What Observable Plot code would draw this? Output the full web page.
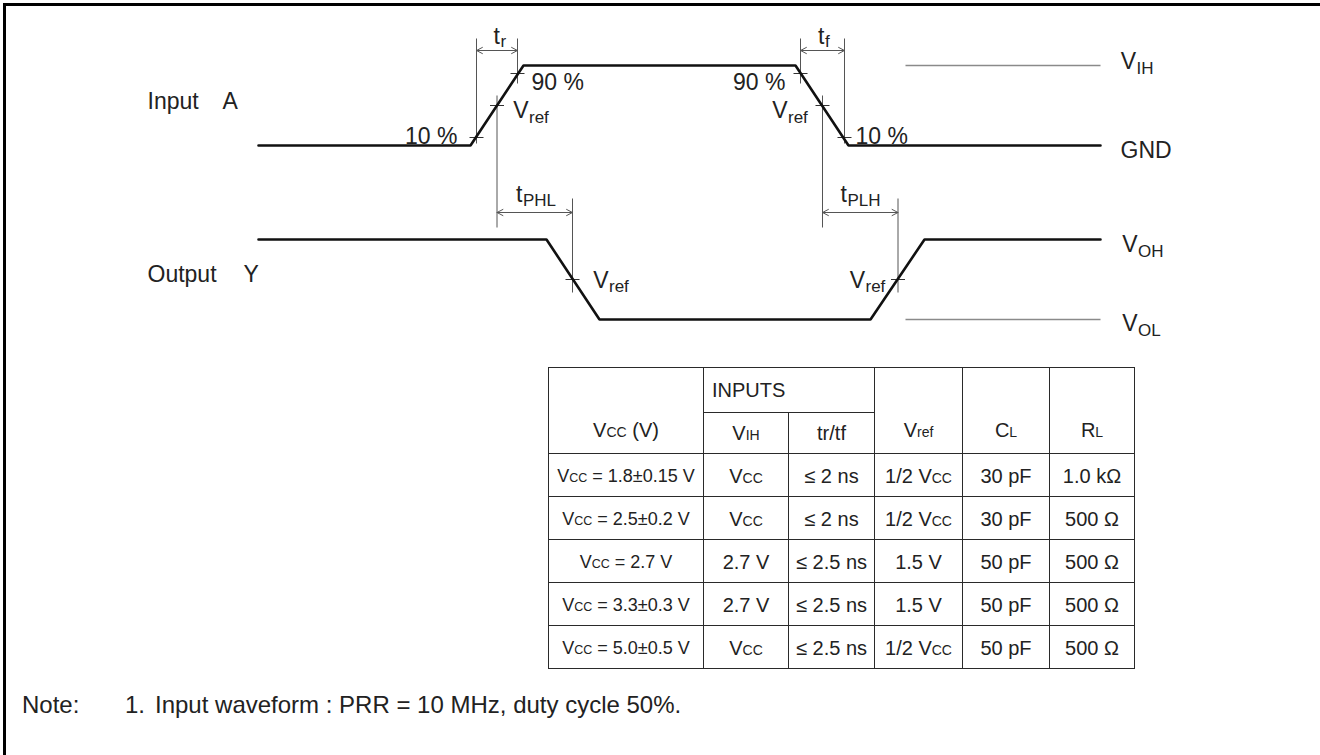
<!DOCTYPE html>
<html><head><meta charset="utf-8">
<script src="https://cdn.jsdelivr.net/npm/d3@7"></script>
<script src="https://cdn.jsdelivr.net/npm/@observablehq/plot@0.6"></script>
<style>
body{margin:0;background:#fff;}
#wrap{position:relative;width:1320px;height:755px;overflow:hidden;font-family:"Liberation Sans",Arial,sans-serif;color:#222;background:#fff;}
.frameTop{position:absolute;left:3px;top:3px;width:1317px;height:3px;background:#000;}
.frameLeft{position:absolute;left:3px;top:3px;width:3px;height:752px;background:#000;}
#chart{position:absolute;left:0;top:0;}
#tbl{position:absolute;left:548px;top:367px;border-collapse:collapse;table-layout:fixed;font-size:20px;color:#222;}
#tbl td{border:1.5px solid #2a2a2a;text-align:center;padding:0;white-space:nowrap;overflow:visible;}
#tbl td.hb{vertical-align:bottom;line-height:41px;}
#tbl td.inputs{text-align:left;padding-left:8px;}
#tbl tr.data td{padding-top:2px;}
#tbl tr.data td.c0{font-size:18px;}
#tbl .s{font-size:14px;}
#tbl td.c0 .s{font-size:12.5px;}
.note{position:absolute;top:693px;font-size:24px;line-height:24px;color:#222;white-space:pre;}
</style>
</head><body>
<div id="wrap">
  <div id="chart"></div>
  <div class="frameTop"></div>
  <div class="frameLeft"></div>
  <table id="tbl"></table>
  <div class="note" id="n1" style="left:22px"></div>
  <div class="note" id="n2" style="left:125px"></div>
  <div class="note" id="n3" style="left:155px"></div>
</div>
<script>
// ---------- waveform data (time units, levels as fraction of swing) ----------
const inputT      = [258, 470, 523, 795, 848, 1100];
const inputLevel  = [0, 0, 1, 1, 0, 0];
const outputT     = [258, 546, 599, 870, 924, 1100];
const outputLevel = [1, 1, 0, 0, 1, 1];

// measurement points on the edges (time, level)
const inputMarkT     = [476, 496.5, 517, 800, 822, 844];
const inputMarkLevel = [0.1, 0.5, 0.9, 0.9, 0.5, 0.1];
const outputMarkT     = [572, 897.5];
const outputMarkLevel = [0.5, 0.5];

// reference level lines (VIH on input lane, VOL on output lane)
const refLineT = [905, 1100];

// timing dimensions
const dimNames = ["tr", "tf", "tPHL", "tPLH"];
const dimStart = [476, 800, 496.5, 822];
const dimEnd   = [517, 844, 572, 897.5];

// table data
const vccValues = ["1.8±0.15 V", "2.5±0.2 V", "2.7 V", "3.3±0.3 V", "5.0±0.5 V"];
const vihValues = ["Vcc", "Vcc", "2.7 V", "2.7 V", "Vcc"];
const trtfValues = ["≤ 2 ns", "≤ 2 ns", "≤ 2.5 ns", "≤ 2.5 ns", "≤ 2.5 ns"];
const vrefValues = ["1/2 Vcc", "1/2 Vcc", "1.5 V", "1.5 V", "1/2 Vcc"];
const clValues = ["30 pF", "30 pF", "50 pF", "50 pF", "50 pF"];
const rlValues = ["1.0 kΩ", "500 Ω", "500 Ω", "500 Ω", "500 Ω"];
const noteTexts = ["Note:", "1.", "Input waveform : PRR = 10 MHz, duty cycle 50%."];

// ---------- layout ----------
const lanes = {input: {base: 145, amp: 80}, output: {base: 319, amp: 80}};
const yIn = l => lanes.input.base - l * lanes.input.amp;
const yOut = l => lanes.output.base - l * lanes.output.amp;
const fsMain = 23, fsSub = 17;
const ink = "#222", dimInk = "#555";

const inputWave = inputT.map((t, i) => ({t, y: yIn(inputLevel[i])}));
const outputWave = outputT.map((t, i) => ({t, y: yOut(outputLevel[i])}));
const marks = [
  ...inputMarkT.map((t, i) => ({t, y: yIn(inputMarkLevel[i])})),
  ...outputMarkT.map((t, i) => ({t, y: yOut(outputMarkLevel[i])}))
];
const refLines = [
  {t1: refLineT[0], t2: refLineT[1], y: yIn(1)},
  {t1: refLineT[0], t2: refLineT[1], y: yOut(0)}
];
const dimRowY = [50, 50, 212, 212];
const dims = dimNames.map((n, i) => ({name: n, t1: dimStart[i], t2: dimEnd[i], y: dimRowY[i]}));
const ext = [
  {t: 476, y1: 38, y2: 143}, {t: 517, y1: 38, y2: 83},
  {t: 496.5, y1: 95, y2: 227},
  {t: 800, y1: 38, y2: 83}, {t: 844, y1: 38, y2: 143},
  {t: 822, y1: 95, y2: 227},
  {t: 572, y1: 198, y2: 292}, {t: 897.5, y1: 198, y2: 292}
];
const arrowHalves = dims.flatMap(d => {
  const m = (d.t1 + d.t2) / 2;
  return [{x1: m, x2: d.t1, y: d.y}, {x1: m, x2: d.t2, y: d.y}];
});

const plainLabels = [
  {text: "Input", x: 147, b: 108, a: "start"},
  {text: "A", x: 222, b: 108, a: "start"},
  {text: "Output", x: 147, b: 281, a: "start"},
  {text: "Y", x: 243, b: 281, a: "start"},
  {text: "10 %", x: 457, b: 143, a: "end"},
  {text: "90 %", x: 531, b: 89, a: "start"},
  {text: "90 %", x: 785, b: 89, a: "end"},
  {text: "10 %", x: 855, b: 143, a: "start"},
  {text: "GND", x: 1120, b: 157, a: "start"}
];
const symLabels = [
  {main: "t", sub: "r", x: 499.5, b: 43, sb: 46},
  {main: "t", sub: "f", x: 824, b: 43, sb: 46},
  {main: "V", sub: "ref", x: 528, b: 117, sb: 122},
  {main: "V", sub: "ref", x: 787, b: 117, sb: 122},
  {main: "t", sub: "PHL", x: 522, b: 201, sb: 205},
  {main: "t", sub: "PLH", x: 846.5, b: 201, sb: 205},
  {main: "V", sub: "ref", x: 608, b: 287, sb: 291},
  {main: "V", sub: "ref", x: 864.5, b: 287, sb: 291},
  {main: "V", sub: "IH", x: 1135.5, b: 68, sb: 73},
  {main: "V", sub: "OH", x: 1137, b: 251, sb: 256},
  {main: "V", sub: "OL", x: 1137, b: 330, sb: 335}
];

const textOpts = a => ({x: "x", y: d => d.b - 0.32 * fsMain, text: "text", textAnchor: a, fontSize: fsMain, fill: ink});

const H = 345;
const chart = Plot.plot({
  width: 1320, height: H, margin: 0,
  x: {domain: [0, 1320], range: [0, 1320], axis: null},
  y: {domain: [0, H], range: [0, H], axis: null},
  style: {fontFamily: "'Liberation Sans', Arial, sans-serif", background: "transparent", overflow: "visible"},
  marks: [
    Plot.link(refLines, {x1: "t1", x2: "t2", y1: "y", y2: "y", stroke: "#8a8a8a", strokeWidth: 1.5}),
    Plot.link(ext, {x1: "t", x2: "t", y1: "y1", y2: "y2", stroke: dimInk, strokeWidth: 1}),
    Plot.link(dims, {x1: "t1", x2: "t2", y1: "y", y2: "y", stroke: dimInk, strokeWidth: 1}),
    Plot.arrow(arrowHalves, {x1: "x1", x2: "x2", y1: "y", y2: "y", stroke: dimInk, strokeWidth: 1, headLength: 10, headAngle: 55}),
    Plot.link(marks, {x1: d => d.t - 7, x2: d => d.t + 7, y1: "y", y2: "y", stroke: "#333", strokeWidth: 1}),
    Plot.line(inputWave, {x: "t", y: "y", stroke: "#111", strokeWidth: 2.6, strokeLinejoin: "miter"}),
    Plot.line(outputWave, {x: "t", y: "y", stroke: "#111", strokeWidth: 2.6, strokeLinejoin: "miter"}),
    Plot.text(plainLabels.filter(d => d.a === "start"), textOpts("start")),
    Plot.text(plainLabels.filter(d => d.a === "end"), textOpts("end")),
    Plot.text(symLabels, {x: "x", y: d => d.b - 0.32 * fsMain, text: "main", textAnchor: "end", fontSize: fsMain, fill: ink}),
    Plot.text(symLabels, {x: d => d.x + 0.5, y: d => d.sb - 0.32 * fsSub, text: "sub", textAnchor: "start", fontSize: fsSub, fill: ink})
  ]
});
document.getElementById("chart").appendChild(chart);

// ---------- table ----------
const fmt = s => s.replace(/Vcc/g, 'V<span class="s">CC</span>');
const widths = [155, 85, 86, 88, 87, 85];
let html = "<colgroup>" + widths.map(w => `<col style="width:${w}px">`).join("") + "</colgroup>";
html += `<tr style="height:45px"><td rowspan="2" class="hb">V<span class="s">CC</span> (V)</td><td colspan="2" class="inputs">INPUTS</td><td rowspan="2" class="hb">V<span class="s">ref</span></td><td rowspan="2" class="hb">C<span class="s">L</span></td><td rowspan="2" class="hb">R<span class="s">L</span></td></tr>`;
html += `<tr style="height:41px"><td>V<span class="s">IH</span></td><td>tr/tf</td></tr>`;
vccValues.forEach((v, i) => {
  html += `<tr class="data" style="height:43px"><td class="c0">${fmt("Vcc = " + v)}</td><td>${fmt(vihValues[i])}</td><td>${trtfValues[i]}</td><td>${fmt(vrefValues[i])}</td><td>${clValues[i]}</td><td>${rlValues[i]}</td></tr>`;
});
document.getElementById("tbl").innerHTML = html;
document.getElementById("n1").textContent = noteTexts[0];
document.getElementById("n2").textContent = noteTexts[1];
document.getElementById("n3").textContent = noteTexts[2];
</script>
</body></html>
